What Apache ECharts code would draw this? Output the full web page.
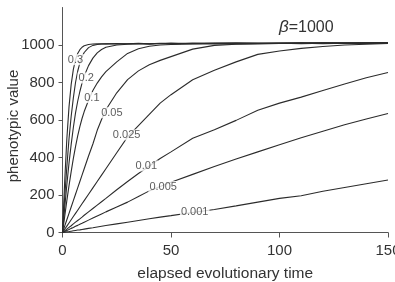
<!DOCTYPE html>
<html>
<head>
<meta charset="utf-8">
<script src="https://cdn.jsdelivr.net/npm/echarts@6/dist/echarts.min.js"></script>
<style>
html, body { margin: 0; padding: 0; background: #fff; }
#chartmain { width: 395px; height: 282px; }
</style>
</head>
<body>
<div id="chartmain"></div>
<script>
// elapsed evolutionary time (x values shared by all curves)
var time = [0, 1, 2, 3, 4, 5, 6, 7, 8, 9, 10, 12, 14, 16, 18, 20, 25, 30, 35, 40, 45, 50, 60, 70, 80, 90, 100, 110, 120, 130, 140, 150];

// phenotypic value
var curve03 = [0, 270, 500, 670, 790, 870, 922, 955, 975, 988, 996, 1003, 1005, 1006, 1007, 1006, 1008, 1007, 1009, 1006, 1008, 1010, 1007, 1009, 1011, 1008, 1010, 1012, 1009, 1011, 1010, 1012];
var curveX = [0, 185, 350, 500, 620, 718, 800, 860, 905, 938, 960, 986, 998, 1003, 1005, 1006, 1005, 1007, 1008, 1006, 1009, 1007, 1010, 1008, 1011, 1009, 1010, 1011, 1012, 1010, 1012, 1011];
var curve02 = [0, 130, 255, 370, 470, 560, 638, 700, 752, 797, 835, 890, 930, 958, 976, 988, 1000, 1004, 1006, 1005, 1008, 1006, 1008, 1010, 1009, 1011, 1008, 1010, 1012, 1011, 1010, 1013];
var curve01 = [0, 85, 170, 250, 325, 395, 458, 515, 565, 608, 645, 705, 757, 797, 830, 858, 910, 955, 980, 993, 1000, 1003, 1005, 1007, 1006, 1008, 1009, 1007, 1010, 1009, 1011, 1010];
var curve005 = [0, 34, 68, 102, 136, 170, 204, 238, 272, 306, 340, 408, 472, 545, 603, 655, 745, 815, 862, 895, 918, 938, 978, 998, 1004, 1006, 1008, 1009, 1007, 1010, 1009, 1011];
var curve0025 = [0, 17, 34, 51, 68, 85, 102, 119, 136, 153, 170, 204, 238, 272, 306, 340, 425, 510, 570, 630, 690, 735, 815, 865, 910, 950, 968, 982, 992, 1000, 1004, 1008];
var curve001 = [0, 9, 18, 27, 36, 46, 55, 64, 73, 82, 92, 110, 128, 146, 164, 182, 228, 272, 315, 355, 395, 430, 503, 548, 598, 652, 690, 722, 757, 792, 825, 853];
var curve0005 = [0, 6, 11, 16, 22, 27, 33, 38, 44, 49, 55, 66, 77, 88, 99, 110, 136, 162, 192, 222, 245, 268, 310, 352, 392, 430, 468, 505, 540, 575, 605, 635];
var curve0001 = [0, 2, 4, 5, 7, 9, 11, 13, 14, 16, 18, 22, 25, 29, 33, 37, 46, 55, 64, 73, 82, 90, 107, 123, 142, 162, 182, 196, 220, 240, 260, 280];

// tick labels
var xTicks = [0, 50, 100, 150];
var yTicks = [0, 200, 400, 600, 800, 1000];

// curve list: label text, where on the curve it sits (time), nudge in px
var curves = [
    { text: '0.3',   data: curve03,   at: 6,  off: [0, 0] },
    { text: '',      data: curveX,    at: 0,  off: [0, 0] },
    { text: '0.2',   data: curve02,   at: 10, off: [2, 2] },
    { text: '0.1',   data: curve01,   at: 14, off: [-1, 7] },
    { text: '0.05',  data: curve005,  at: 20, off: [6, 3] },
    { text: '0.025', data: curve0025, at: 30, off: [-1, -2] },
    { text: '0.01',  data: curve001,  at: 40, off: [-3, 0] },
    { text: '0.005', data: curve0005, at: 45, off: [3, 0] },
    { text: '0.001', data: curve0001, at: 60, off: [2, 0] }
];

var FONT = 'Liberation Sans, Arial, sans-serif';
var INK = '#2b2b2b';

var series = [];
var labelPoints = [];
curves.forEach(function (c, idx) {
    series.push({
        name: c.text || ('curve' + idx),
        type: 'line',
        symbol: 'none',
        silent: true,
        z: 2,
        lineStyle: { color: INK, width: 1.1 },
        data: time.map(function (t, i) { return [t, c.data[i]]; })
    });
    if (c.text) {
        var k = time.indexOf(c.at);
        labelPoints.push({
            value: [time[k], c.data[k]],
            label: { formatter: c.text, offset: c.off }
        });
    }
});

// the curve labels sit on the lines and blank them out, like the gaps in the original
series.push({
    type: 'scatter',
    symbolSize: 1,
    silent: true,
    z: 5,
    itemStyle: { color: 'rgba(0,0,0,0)' },
    label: {
        show: true,
        position: 'inside',
        fontFamily: FONT,
        fontSize: 11,
        color: '#333',
        backgroundColor: '#fff',
        padding: [0, 1]
    },
    data: labelPoints
});

var chart = echarts.init(document.getElementById('chartmain'));
chart.setOption({
    animation: false,
    backgroundColor: '#fff',
    title: {
        text: '{b|β}=1000',
        left: 274,
        top: 14,
        textStyle: {
            fontFamily: FONT,
            fontSize: 16,
            fontWeight: 'normal',
            color: '#333',
            rich: {
                b: { fontFamily: FONT, fontSize: 17, fontStyle: 'italic', color: '#333' }
            }
        }
    },
    grid: { left: 62.5, right: 7, top: 7.5, bottom: 49.5, containLabel: false, outerBoundsMode: 'none' },
    xAxis: {
        type: 'value',
        min: 0,
        max: 150,
        interval: 50,
        name: 'elapsed evolutionary time',
        nameLocation: 'middle',
        nameGap: 33,
        nameTextStyle: { fontFamily: FONT, fontSize: 15.5, color: '#333' },
        splitLine: { show: false },
        axisLine: { lineStyle: { color: '#555', width: 1 } },
        axisTick: { show: true, length: 5, lineStyle: { color: '#555' }, customValues: xTicks },
        axisLabel: { fontFamily: FONT, fontSize: 15, color: '#333', margin: 11, customValues: xTicks,
            formatter: function (v) { return String(v); } }
    },
    yAxis: {
        type: 'value',
        min: 0,
        max: 1200,
        interval: 200,
        name: 'phenotypic value',
        nameLocation: 'middle',
        nameGap: 41,
        nameMoveOverlap: false,
        nameTextStyle: { fontFamily: FONT, fontSize: 15, color: '#333', padding: [0, 12, 0, 0] },
        splitLine: { show: false },
        axisLine: { show: true, lineStyle: { color: '#555', width: 1 } },
        axisTick: { show: true, length: 4, lineStyle: { color: '#555' }, customValues: yTicks },
        axisLabel: { fontFamily: FONT, fontSize: 15, color: '#333', margin: 8, customValues: yTicks,
            formatter: function (v) { return String(v); } }
    },
    series: series
});
</script>
</body>
</html>
